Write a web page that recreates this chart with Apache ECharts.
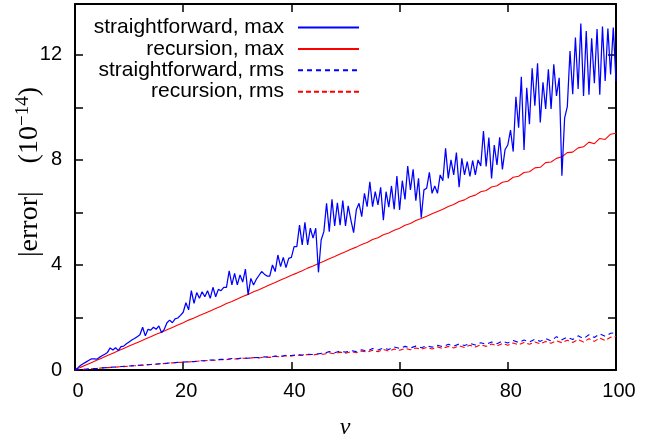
<!DOCTYPE html>
<html>
<head>
<meta charset="utf-8">
<script src="https://cdn.jsdelivr.net/npm/echarts@6/dist/echarts.min.js"></script>
<style>
  html, body { margin: 0; padding: 0; background: #fff; }
  #chart { width: 664px; height: 440px; }
</style>
</head>
<body>
<div id="chart"></div>
<script>
// ---------------- data ----------------
const seriesNames = ['straightforward, max', 'recursion, max', 'straightforward, rms', 'recursion, rms'];
const xTicks = [0, 20, 40, 60, 80, 100];
const yTickLabels = [0, 4, 8, 12];

// sampled every 0.5 in nu (0 .. 100)
const nuStepHalf = 0.5;
const straightMax = [
  0, 0.08, 0.17, 0.24, 0.3, 0.36, 0.42, 0.42, 0.41, 0.48,
  0.54, 0.6, 0.67, 0.84, 0.76, 0.85, 0.74, 0.89, 0.91, 1.0,
  1.07, 1.14, 1.2, 1.27, 1.34, 1.63, 1.3, 1.55, 1.52, 1.63,
  1.55, 1.68, 1.42, 1.55, 1.8, 1.9, 1.8, 1.95, 1.98, 2.08,
  2.2, 2.56, 2.29, 3.02, 2.54, 2.95, 2.73, 2.98, 2.79, 3.02,
  2.73, 3.15, 2.79, 3.07, 3.02, 3.15, 3.15, 3.78, 3.24, 3.68,
  3.24, 3.62, 3.35, 3.84, 2.86, 3.49, 3.24, 3.45, 3.6, 3.75,
  3.65, 3.58, 3.58, 4.0, 3.75, 4.38, 3.94, 4.29, 3.9, 4.25,
  4.29, 4.7, 4.7, 5.52, 4.76, 5.62, 4.76, 5.4, 5.02, 5.4,
  3.72, 4.95, 5.27, 6.35, 5.27, 6.5, 5.49, 6.37, 5.52, 6.45,
  5.49, 6.25, 5.71, 5.23, 6.1, 6.35, 5.84, 6.73, 6.22, 7.17,
  6.22, 6.79, 6.29, 6.96, 5.71, 6.79, 6.2, 7.01, 6.12, 7.39,
  6.1, 7.21, 6.5, 7.77, 6.86, 7.64, 6.45, 7.3, 5.8, 6.86,
  6.92, 7.53, 6.73, 7.01, 6.73, 7.43, 7.21, 8.44, 7.3, 8.0,
  7.43, 8.28, 6.96, 8.06, 7.43, 7.94, 7.37, 7.98, 7.43, 8.0,
  7.77, 9.1, 7.75, 8.85, 7.3, 8.57, 7.81, 8.86, 7.64, 8.4,
  8.57, 9.14, 8.32, 10.41, 9.23, 11.17, 8.38, 10.75, 9.36, 11.49,
  10.07, 11.68, 9.43, 10.96, 9.94, 11.45, 9.94, 11.64, 10.44, 11.13,
  7.4, 9.59, 10.03, 12.15, 10.5, 12.66, 10.7, 13.2, 10.44, 12.91,
  10.48, 12.63, 10.92, 12.99, 10.48, 13.08, 11.01, 13.01, 11.26, 13.04,
  11.0
];

// sampled every 1 in nu (0 .. 100)
const nuStepOne = 1;
const recursionMax = [
  0, 0.1, 0.19, 0.28, 0.37, 0.46, 0.55, 0.64, 0.73, 0.82,
  0.91, 1.0, 1.09, 1.18, 1.27, 1.36, 1.44, 1.53, 1.62, 1.71,
  1.8, 1.9, 1.98, 2.08, 2.16, 2.25, 2.34, 2.43, 2.53, 2.61,
  2.7, 2.8, 2.88, 2.98, 3.06, 3.15, 3.25, 3.33, 3.43, 3.51,
  3.61, 3.69, 3.78, 3.88, 3.96, 4.06, 4.14, 4.24, 4.32, 4.42,
  4.5, 4.6, 4.68, 4.78, 4.86, 4.97, 5.04, 5.15, 5.22, 5.32,
  5.4, 5.51, 5.58, 5.69, 5.77, 5.86, 5.95, 6.04, 6.12, 6.23,
  6.3, 6.42, 6.48, 6.6, 6.66, 6.79, 6.84, 6.97, 7.02, 7.15,
  7.19, 7.34, 7.38, 7.52, 7.55, 7.7, 7.72, 7.9, 7.92, 8.06,
  8.12, 8.28, 8.3, 8.46, 8.5, 8.68, 8.62, 8.82, 8.78, 8.98,
  9.02
];
const straightRms = [
  0, 0.02, 0.03, 0.05, 0.06, 0.08, 0.09, 0.11, 0.12, 0.14,
  0.15, 0.17, 0.18, 0.2, 0.21, 0.23, 0.24, 0.26, 0.27, 0.29,
  0.3, 0.32, 0.32, 0.35, 0.35, 0.38, 0.38, 0.41, 0.4, 0.44,
  0.43, 0.46, 0.45, 0.48, 0.47, 0.5, 0.49, 0.53, 0.52, 0.56,
  0.55, 0.58, 0.57, 0.6, 0.59, 0.62, 0.64, 0.7, 0.66, 0.72,
  0.68, 0.74, 0.7, 0.77, 0.72, 0.82, 0.76, 0.84, 0.78, 0.88,
  0.82, 0.9, 0.84, 0.91, 0.85, 0.92, 0.87, 0.94, 0.89, 0.98,
  0.91, 0.99, 0.93, 1.01, 0.95, 1.04, 0.98, 1.07, 1.0, 1.1,
  1.03, 1.12, 1.05, 1.14, 1.07, 1.17, 1.09, 1.2, 1.11, 1.27,
  1.15, 1.25, 1.16, 1.3, 1.2, 1.34, 1.24, 1.38, 1.28, 1.4,
  1.42
];
const recursionRms = [
  0, 0.02, 0.03, 0.05, 0.06, 0.08, 0.09, 0.1, 0.12, 0.13,
  0.15, 0.16, 0.18, 0.19, 0.21, 0.22, 0.24, 0.25, 0.27, 0.28,
  0.3, 0.31, 0.32, 0.34, 0.35, 0.37, 0.37, 0.4, 0.39, 0.43,
  0.42, 0.45, 0.44, 0.47, 0.46, 0.49, 0.48, 0.52, 0.5, 0.54,
  0.53, 0.57, 0.55, 0.59, 0.57, 0.61, 0.6, 0.65, 0.62, 0.68,
  0.64, 0.7, 0.66, 0.72, 0.68, 0.75, 0.7, 0.78, 0.72, 0.8,
  0.75, 0.82, 0.77, 0.84, 0.79, 0.86, 0.8, 0.88, 0.82, 0.9,
  0.84, 0.92, 0.86, 0.94, 0.88, 0.96, 0.9, 0.99, 0.92, 1.01,
  0.94, 1.03, 0.96, 1.05, 0.98, 1.07, 1.0, 1.09, 1.02, 1.11,
  1.04, 1.13, 1.05, 1.16, 1.07, 1.19, 1.09, 1.22, 1.12, 1.25,
  1.27
];

// ---------------- chart ----------------
function pairs(vals, step) {
  return vals.map(function (v, i) { return [i * step, v]; });
}

const SANS = 'Liberation Sans, Arial, Helvetica, sans-serif';
const SERIF = 'Liberation Serif, Times New Roman, serif';

const chart = echarts.init(document.getElementById('chart'), null, { renderer: 'canvas' });

const axisLineStyle = { show: true, onZero: false, lineStyle: { color: '#000', width: 2 } };
const tickStyle = { show: true, inside: true, length: 8, lineStyle: { color: '#000', width: 1.5 } };

const option = {
  animation: false,
  backgroundColor: '#fff',
  grid: { left: 75, right: 48, top: 4, bottom: 70, containLabel: false },
  legend: {
    data: seriesNames,
    orient: 'vertical',
    align: 'right',
    right: 304,
    top: 17,
    padding: 0,
    itemGap: 0.4,
    itemWidth: 61,
    itemHeight: 1,
    textStyle: { fontFamily: SANS, fontSize: 21, color: '#000', lineHeight: 21, padding: [0, 9, 0, 0] }
  },
  xAxis: [
    {
      type: 'value', position: 'bottom', min: xTicks[0], max: xTicks[xTicks.length - 1], interval: 20,
      axisLine: axisLineStyle, axisTick: tickStyle, splitLine: { show: false },
      axisLabel: { fontFamily: SANS, fontSize: 20, color: '#000', margin: 11, padding: [0, 0, 0, 6] }
    },
    {
      type: 'value', position: 'top', min: xTicks[0], max: xTicks[xTicks.length - 1], interval: 20,
      axisLine: axisLineStyle, axisTick: tickStyle, splitLine: { show: false },
      axisLabel: { show: false }
    }
  ],
  yAxis: [
    {
      type: 'value', position: 'left', min: 0, max: 13.94, interval: 2,
      axisLine: axisLineStyle, axisTick: tickStyle, splitLine: { show: false },
      axisLabel: {
        fontFamily: SANS, fontSize: 20, color: '#000', margin: 13,
        formatter: function (v) { return yTickLabels.indexOf(v) >= 0 ? String(v) : ''; }
      }
    },
    {
      type: 'value', position: 'right', min: 0, max: 13.94, interval: 2,
      axisLine: axisLineStyle, axisTick: tickStyle, splitLine: { show: false },
      axisLabel: { show: false }
    }
  ],
  series: [
    {
      name: seriesNames[0], type: 'line', data: pairs(straightMax, nuStepHalf),
      symbol: 'none', showSymbol: false, color: '#0000ff',
      lineStyle: { color: '#0000ff', width: 1.25 }, z: 4
    },
    {
      name: seriesNames[1], type: 'line', data: pairs(recursionMax, nuStepOne),
      symbol: 'none', showSymbol: false, color: '#ff0000',
      lineStyle: { color: '#ff0000', width: 1.1 }, z: 3
    },
    {
      name: seriesNames[2], type: 'line', data: pairs(straightRms, nuStepOne),
      symbol: 'none', showSymbol: false, color: '#0000ff',
      lineStyle: { color: '#0000ff', width: 1.1, type: [5, 4] }, z: 4
    },
    {
      name: seriesNames[3], type: 'line', data: pairs(recursionRms, nuStepOne),
      symbol: 'none', showSymbol: false, color: '#ff0000',
      lineStyle: { color: '#ff0000', width: 1.1, type: [5, 3] }, z: 3
    }
  ],
  graphic: [
    {
      type: 'text', x: 30, y: 172, rotation: Math.PI / 2,
      style: {
        text: '{a||error|}{a|    (10}{s|−14}{a|)}',
        align: 'center', verticalAlign: 'middle',
        rich: {
          a: { fontFamily: SERIF, fontSize: 28, fill: '#000', lineHeight: 34 },
          s: { fontFamily: SERIF, fontSize: 19, fill: '#000', lineHeight: 34, padding: [0, 0, 14, 0] }
        }
      }
    },
    {
      type: 'text', x: 345, y: 428,
      style: {
        text: 'ν', fontFamily: SERIF, fontStyle: 'italic', fontSize: 24, fill: '#000',
        align: 'center', verticalAlign: 'middle'
      }
    }
  ]
};

chart.setOption(option);
</script>
</body>
</html>
